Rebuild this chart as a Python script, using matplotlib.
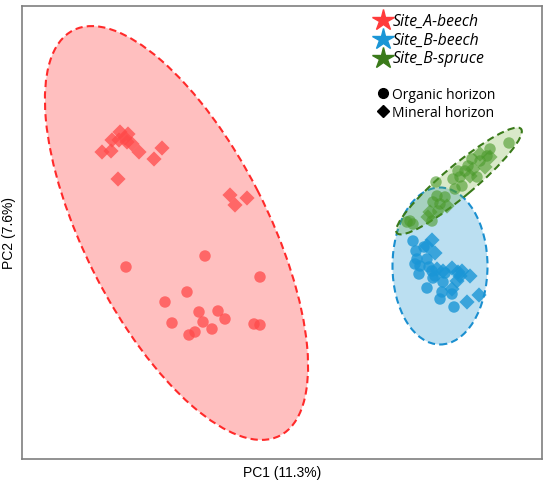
import numpy as np
import matplotlib
matplotlib.use("Agg")
import matplotlib.pyplot as plt
from matplotlib.patches import Ellipse
from matplotlib.lines import Line2D

# ---------------- data (PC scores, arbitrary units) ----------------
groups = ["Site_A-beech", "Site_B-beech", "Site_B-spruce"]

a_min_x = [80, 90, 89, 98, 97, 103, 106, 110, 105, 117, 132, 140, 96, 208, 213, 225]
a_min_y = [307, 319, 308, 327, 319, 321, 325, 315, 317, 307, 300, 311, 280, 264, 254, 261]
a_org_x = [104, 183, 238, 165, 143, 177, 196, 150, 181, 203, 232, 238, 173, 167, 190]
a_org_y = [192, 203, 182, 167, 157, 147, 148, 136, 137, 140, 135, 134, 127, 124, 130]

b_org_x = [391, 394, 402, 395, 393, 405, 398, 407, 397, 410, 413, 411, 421, 405, 420, 418, 430, 432, 423]
b_org_y = [218, 208, 212, 200, 195, 200, 193, 192, 185, 188, 183, 181, 177, 171, 167, 160, 165, 152, 186]
b_min_x = [410, 413, 405, 430, 436, 440, 448, 435, 438, 430, 445, 457, 421, 415]
b_min_y = [219, 206, 213, 191, 187, 188, 183, 178, 183, 170, 157, 164, 188, 190]

s_org_x = [487, 468, 465, 450, 446, 443, 436, 438, 431, 455, 440, 433, 414, 415, 423, 411, 418, 416, 410, 388, 391, 385, 458]
s_org_y = [316, 310, 303, 300, 293, 288, 288, 282, 280, 282, 273, 270, 277, 263, 262, 257, 255, 248, 238, 238, 235, 237, 298]
s_min_x = [458, 451, 448, 463, 468, 425, 408, 406]
s_min_y = [305, 290, 283, 292, 302, 253, 247, 242]

# confidence ellipses: centre x, centre y, width, height, angle (deg)
ell_cx = [154.5, 418, 437]
ell_cy = [226, 193, 278]
ell_w = [455, 95, 162]
ell_h = [183, 157, 31]
ell_ang = [117, 0, 40]

# ---------------- styling ----------------
pt_colors = ["#ff4a4a", "#1a96d6", "#4a9a2a"]
pt_alpha = [0.75, 0.8, 0.6]
fill_colors = ["#ff0000", "#1e96d2", "#6aaa2a"]
fill_alpha = [0.25, 0.3, 0.25]
edge_colors = ["#ff2a2a", "#1a8fd0", "#3a7a1a"]
star_colors = ["#ff3b3b", "#1a96d6", "#3a7a1a"]

fig = plt.figure(figsize=(5.5, 4.85), dpi=100)
ax = fig.add_axes([22 / 550, 1 - 460 / 485, 520 / 550, 453 / 485])
ax.set_xlim(0, 520)
ax.set_ylim(0, 453)

for i in range(3):
    ax.add_patch(Ellipse((ell_cx[i], ell_cy[i]), ell_w[i], ell_h[i], angle=ell_ang[i],
                         facecolor=fill_colors[i], alpha=fill_alpha[i], edgecolor="none",
                         zorder=1 + i * 0.1))
    ax.add_patch(Ellipse((ell_cx[i], ell_cy[i]), ell_w[i], ell_h[i], angle=ell_ang[i],
                         facecolor="none", edgecolor=edge_colors[i], lw=1.5,
                         linestyle=(0, (3.5, 2)), zorder=1.05 + i * 0.1))

org = [(a_org_x, a_org_y), (b_org_x, b_org_y), (s_org_x, s_org_y)]
mnr = [(a_min_x, a_min_y), (b_min_x, b_min_y), (s_min_x, s_min_y)]
for i in range(3):
    ax.scatter(*org[i], s=68, marker="o", color=pt_colors[i], alpha=pt_alpha[i],
               edgecolors="none", zorder=3)
    ax.scatter(*mnr[i], s=60, marker="D", color=pt_colors[i], alpha=pt_alpha[i],
               edgecolors="none", zorder=3)

ax.set_xticks([])
ax.set_yticks([])
for sp in ax.spines.values():
    sp.set_color("#7f7f7f")
    sp.set_linewidth(1.2)

ax.set_xlabel("PC1 (11.3%)", fontsize=10, family="Liberation Sans", labelpad=4)
ax.set_ylabel("PC2 (7.6%)", fontsize=10, family="Liberation Sans", labelpad=4)

handles = [Line2D([], [], marker="*", ls="none", color=star_colors[i], markersize=16)
           for i in range(3)]
handles.append(Line2D([], [], ls="none", marker=None))
handles.append(Line2D([], [], marker="o", ls="none", color="black", markersize=7))
handles.append(Line2D([], [], marker="D", ls="none", color="black", markersize=6))
labels = groups + [" ", "Organic horizon", "Mineral horizon"]
leg = ax.legend(handles, labels, loc="upper left", bbox_to_anchor=(0.675, 1.0),
                frameon=False, handlelength=0.5, handletextpad=0.4, borderpad=0,
                labelspacing=0.2, prop={"family": "Open Sans", "size": 10})
for t in leg.get_texts()[:3]:
    t.set_style("italic")
    t.set_fontsize(11.3)

fig.savefig("out.png", dpi=100)
